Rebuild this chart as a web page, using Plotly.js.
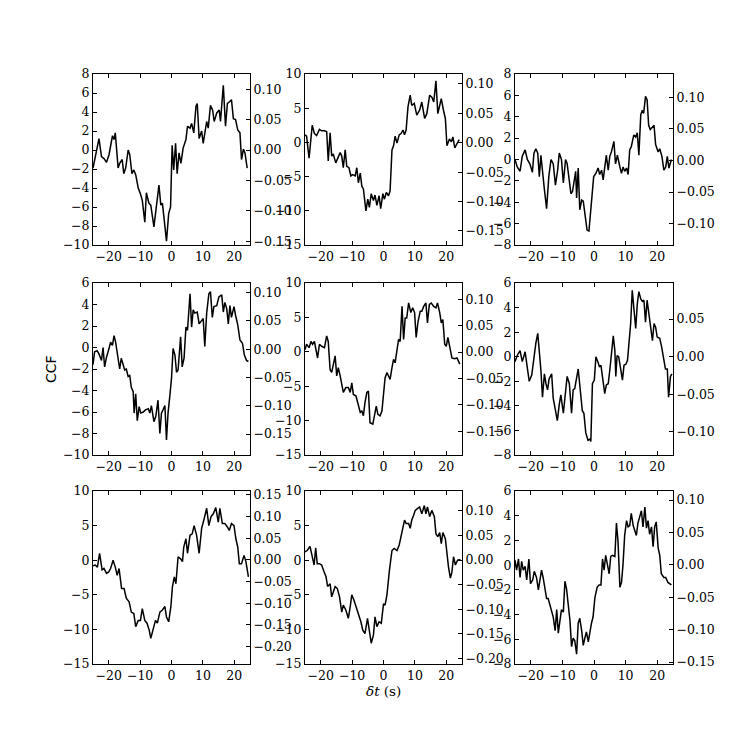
<!DOCTYPE html>
<html>
<head>
<meta charset="utf-8">
<script src="https://cdn.plot.ly/plotly-3.0.1.min.js"></script>
<style>html,body{margin:0;padding:0;background:#fff}#chart{width:747px;height:739px}</style>
</head>
<body>
<div id="chart"></div>
<script>
// ---- data (lag in s, CCF) ----
const lag1 = [-25,-23.1,-22.3,-21.5,-20.7,-19.9,-18.8,-18.3,-17.9,-17.0,-16.5,-15.7,-15.2,-14.6,-13.8,-13.3,-12.6,-12.0,-11.4,-10.6,-9.9,-9.3,-8.5,-8.0,-7.2,-6.6,-5.6,-4.8,-4.0,-3.4,-2.9,-2.3,-1.6,-0.9,-0.3,0.2,0.7,1.3,1.8,2.4,3.0,3.7,4.6,5.1,5.9,6.4,7.1,7.8,8.2,8.8,9.6,10.1,11.2,11.7,12.4,13.1,13.6,14.4,15.2,15.6,16.5,17.2,17.8,18.6,19.1,19.7,20.4,21.1,21.8,22.3,22.9,23.4,24.1];
const ccf1 = [-1.9,1.2,-0.7,-0.9,-1.3,-0.5,1.5,1.1,1.8,-1.9,-1.4,-1.0,-2.5,-1.9,0.0,-0.5,-2.5,-2.1,-2.6,-4.0,-4.6,-5.3,-7.6,-4.5,-5.6,-5.8,-8.1,-5.9,-3.7,-5.8,-5.6,-7.4,-9.6,-6.7,-6.0,0.5,-2.1,0.7,-2.5,-0.3,-1.4,0.2,1.1,2.5,2.3,2.8,1.8,4.6,4.9,1.2,2.0,0.7,3.0,2.3,4.7,4.2,3.0,3.9,4.2,3.0,6.8,2.5,4.9,5.1,5.3,3.3,3.2,2.1,1.8,-1.0,0.1,-0.3,-1.9];

const lag2 = [-25,-24.5,-23.7,-23.1,-22.7,-22.0,-21.3,-20.4,-19.7,-18.8,-18.1,-17.6,-17.0,-16.5,-16.0,-15.2,-14.6,-13.8,-13.3,-12.8,-12.2,-11.7,-11.0,-10.4,-9.8,-9.0,-8.5,-8.0,-7.4,-6.9,-6.4,-5.6,-5.0,-4.5,-3.9,-3.2,-2.7,-2.1,-1.4,-0.9,-0.2,0.3,0.9,1.6,2.1,2.7,3.2,3.7,4.3,5.0,5.6,6.2,6.7,7.2,7.8,8.5,9.0,9.8,10.6,11.5,12.2,13.1,13.8,14.7,15.4,16.0,16.7,17.3,17.9,18.4,19.1,19.7,20.2,21.0,21.6,22.1,22.7,23.4,24.1];
const ccf2 = [1.1,0.9,-2.3,1.1,2.5,1.3,1.0,1.9,1.7,1.7,1.6,-2.7,1.4,-2.0,-1.7,-3.0,-2.3,-1.5,-2.0,-3.7,-1.1,-3.5,-3.7,-4.9,-4.7,-4.9,-3.7,-5.9,-4.5,-6.4,-6.8,-10.0,-8.3,-9.5,-7.5,-8.5,-7.7,-9.2,-7.8,-9.7,-7.5,-8.3,-7.3,-7.8,-7.1,-1.1,-0.5,0.9,-0.1,1.1,1.3,1.8,1.1,1.8,5.2,6.9,5.4,5.7,4.0,4.7,5.9,3.5,4.2,6.9,6.6,5.9,9.0,4.2,5.4,6.4,4.7,3.5,-0.5,0.5,0.1,0.8,-0.8,-0.1,0.4];

const lag3 = [-25,-24.3,-23.4,-22.7,-21.8,-21.1,-20.3,-19.5,-19.0,-18.4,-17.8,-17.3,-16.8,-16.3,-15.7,-15.0,-14.3,-13.6,-12.9,-12.2,-11.5,-11.0,-10.3,-9.7,-9.0,-8.5,-7.8,-7.3,-6.8,-6.3,-5.8,-5.5,-5.0,-4.5,-3.9,-3.4,-2.9,-2.2,-1.6,-0.8,-0.1,0.6,1.3,1.8,2.4,2.9,3.4,3.9,4.5,5.0,5.5,6.3,6.8,7.4,8.2,8.7,9.2,9.7,10.3,10.8,11.3,11.8,12.6,13.2,13.7,14.2,14.8,15.3,15.7,16.3,16.8,17.3,17.8,18.5,19.0,19.5,20.3,20.8,21.5,22.1,22.7,23.2,23.7,24.5];
const ccf3 = [0.0,-0.7,-1.1,0.3,0.9,0.0,-0.4,-1.2,0.6,1.0,0.6,-1.6,0.4,-0.8,-2.8,-4.6,-1.6,0.0,-0.4,-2.4,-1.0,0.6,0.0,-2.2,0.0,-0.4,-1.9,-3.2,-3.0,-2.2,-1.1,-3.6,-0.8,-4.7,-3.8,-3.9,-5.3,-6.6,-6.7,-4.1,-1.6,-1.3,-0.8,-1.4,-1.0,-1.9,-0.4,0.4,-1.0,0.3,0.7,1.7,-0.4,0.4,-0.7,-1.3,-0.7,-1.1,-0.8,-1.4,0.9,1.2,2.3,2.1,2.5,0.4,4.2,4.6,4.3,5.9,5.6,3.2,2.8,3.1,3.2,1.4,0.7,1.0,0.3,-1.0,-0.7,0.3,-0.8,0.0];

const lag4 = [-25,-24.5,-23.7,-23.1,-22.3,-21.8,-21.3,-20.7,-19.9,-19.4,-18.8,-18.3,-17.8,-17.0,-16.5,-16.0,-15.4,-14.9,-14.4,-13.8,-13.3,-12.8,-12.2,-11.9,-11.4,-10.9,-10.3,-9.8,-9.0,-8.3,-7.4,-6.9,-6.4,-5.6,-5.0,-4.3,-3.7,-3.2,-2.7,-2.1,-1.6,-1.1,-0.5,0.0,0.5,1.1,1.6,2.1,2.9,3.4,4.0,4.6,5.1,5.9,6.4,6.9,7.4,8.2,8.8,9.6,10.1,10.6,11.2,11.9,12.4,13.0,13.5,14.4,15.1,16.0,16.5,17.0,17.6,18.1,18.6,19.1,19.9,20.4,21.1,21.8,22.6,23.2,23.9,24.5];
const ccf4 = [-1.6,-0.4,-0.3,-0.6,-1.2,0.0,-1.8,-0.9,-0.1,0.5,0.2,1.1,0.5,-1.2,-2.0,-1.0,-1.6,-2.1,-2.0,-2.7,-2.6,-3.7,-4.1,-6.1,-4.3,-6.8,-5.5,-6.1,-6.0,-5.8,-5.7,-6.1,-5.4,-6.9,-6.4,-4.9,-8.0,-6.1,-5.8,-5.4,-8.6,-6.1,-4.4,-2.9,-0.1,-0.7,-2.3,-2.1,1.0,-1.8,-1.0,1.9,1.6,5.0,1.9,3.5,3.2,3.3,2.2,2.5,2.7,0.1,3.2,5.0,5.2,2.8,3.8,3.9,4.7,4.9,3.3,4.2,3.6,2.2,3.9,2.8,3.8,3.0,2.1,0.7,0.4,-0.7,-1.2,-1.3];

const lag5 = [-25,-24.5,-23.7,-23.1,-22.6,-22.0,-21.5,-21.0,-20.4,-19.7,-18.8,-18.1,-17.6,-17.0,-16.5,-16.0,-15.4,-14.9,-14.4,-13.8,-13.3,-12.8,-12.0,-11.2,-10.6,-10.1,-9.6,-8.8,-8.2,-7.4,-6.9,-6.4,-5.9,-5.3,-4.8,-4.3,-3.4,-2.9,-2.3,-1.8,-1.1,-0.5,0.0,0.5,1.1,1.6,2.1,2.7,3.2,3.7,4.3,4.8,5.3,5.9,6.4,6.9,7.4,8.0,8.7,9.3,9.9,10.4,11.0,11.7,12.2,12.8,13.5,14.0,14.6,15.2,16.0,16.7,17.2,17.9,18.4,18.9,19.5,20.0,20.5,21.3,21.8,22.6,23.4,24.3];
const ccf5 = [0.3,1.1,0.6,1.5,1.1,1.5,0.3,-0.9,1.1,0.8,0.6,2.3,1.5,-2.6,-3.0,-1.8,-0.6,-3.5,-2.3,-3.5,-4.5,-5.9,-5.2,-5.2,-5.9,-4.5,-6.2,-6.4,-7.4,-8.8,-8.6,-9.3,-7.4,-5.9,-5.7,-10.3,-10.5,-9.3,-7.9,-9.1,-9.3,-8.6,-6.4,-3.8,-3.0,-3.4,-4.0,-2.3,-1.1,-1.6,0.1,1.8,1.5,6.6,1.8,4.9,4.9,7.1,5.7,6.4,5.7,2.1,4.4,5.9,5.9,6.6,7.1,4.2,6.9,7.1,6.6,6.4,7.1,5.7,4.2,4.7,1.1,0.8,2.1,0.3,-0.9,-1.0,-0.9,-1.8];

const lag6 = [-25,-24.3,-23.4,-22.7,-21.8,-21.1,-20.5,-19.7,-19.0,-18.4,-17.8,-17.3,-16.8,-16.3,-15.7,-15.2,-14.7,-14.2,-13.4,-12.9,-12.2,-11.6,-11.0,-10.5,-9.7,-9.2,-8.5,-7.8,-7.1,-6.6,-6.1,-5.0,-4.5,-3.7,-3.2,-2.6,-1.9,-1.3,-1.0,-0.5,0.1,0.6,1.2,1.7,2.2,2.7,3.4,3.9,4.5,5.0,5.5,6.1,6.6,6.9,7.3,7.8,8.5,9.0,9.5,10.1,10.6,11.1,11.6,12.1,12.6,13.2,13.7,14.2,14.8,15.3,15.8,16.3,16.8,17.4,17.9,18.5,19.0,19.5,20.0,20.8,21.4,22.1,22.6,23.2,23.6,24.2,24.7];
const ccf6 = [-0.4,0.1,0.5,-0.4,0.4,-0.8,-2.0,-1.5,0.1,1.1,1.9,0.5,-1.1,-3.3,-1.4,-2.2,-2.7,-1.8,-1.4,-3.4,-4.4,-5.2,-3.9,-3.1,-4.6,-3.3,-1.6,-2.2,-4.6,-2.7,-2.6,-1.0,-2.2,-4.4,-4.6,-6.2,-6.8,-6.7,-6.9,-2.2,-1.9,0.0,-0.4,-0.8,-0.7,-1.6,-3.0,-2.3,-2.2,-1.1,0.2,1.7,0.5,-1.6,0.1,0.0,-1.1,-1.9,-0.7,-0.6,-0.3,1.3,2.7,5.4,3.8,2.3,4.3,5.3,4.7,4.5,4.6,2.8,4.6,3.5,2.8,1.3,2.7,2.4,1.6,1.5,0.8,-0.3,-1.0,-1.0,-3.3,-1.6,-1.4];

const lag7 = [-25,-24.3,-23.6,-22.9,-22.1,-21.5,-20.7,-20.0,-19.4,-18.6,-17.9,-17.3,-16.7,-15.9,-15.1,-14.4,-13.5,-12.8,-12.0,-11.4,-10.6,-9.9,-9.3,-8.5,-7.8,-7.1,-6.6,-5.9,-5.1,-4.5,-3.7,-2.9,-2.1,-1.6,-0.9,-0.2,0.3,0.9,1.4,2.1,2.9,3.5,3.9,4.6,5.1,5.9,6.6,7.2,8.0,8.8,9.6,10.3,11.2,11.9,12.6,13.3,14.1,14.9,15.4,16.2,17.0,17.8,18.4,19.1,19.9,20.5,21.1,21.6,22.3,23.1,23.7,24.5];
const ccf7 = [-0.8,-0.7,-1.0,1.0,-1.4,-1.2,-1.9,-1.7,-1.2,0.0,-1.0,-2.2,-1.2,-4.1,-4.1,-5.5,-6.0,-7.5,-7.7,-9.6,-8.7,-8.7,-7.0,-8.7,-9.1,-10.1,-11.3,-10.1,-8.7,-9.1,-7.5,-7.2,-6.7,-8.2,-8.9,-6.7,-3.8,-2.4,-3.4,0.5,0.2,-0.2,1.9,3.1,1.0,3.6,3.8,5.0,3.6,1.0,4.6,5.8,7.5,5.0,6.3,6.7,7.6,5.5,7.5,5.3,5.3,4.8,4.3,5.3,5.0,3.1,1.9,-0.5,-0.5,0.7,-0.2,-2.4];

const lag8 = [-25,-24.3,-23.4,-22.9,-22.1,-21.6,-21.1,-20.4,-19.7,-18.9,-18.3,-17.8,-17.0,-16.5,-16.0,-15.4,-14.7,-14.0,-13.3,-12.8,-12.0,-11.2,-10.6,-10.1,-9.4,-8.7,-8.0,-7.2,-6.6,-5.9,-5.1,-4.5,-3.9,-3.2,-2.7,-2.1,-1.4,-0.7,0.0,0.5,1.1,1.9,2.7,3.4,4.3,5.0,5.5,6.2,6.7,7.2,8.0,8.5,9.0,9.6,10.1,10.9,11.5,12.2,13.0,13.5,14.0,14.7,15.4,16.2,16.7,17.3,17.9,18.4,18.9,19.7,20.2,20.7,21.3,21.8,22.3,22.9,23.6,24.5];
const ccf8 = [1.2,1.4,2.0,1.0,-0.7,1.8,-0.5,-0.5,-0.7,-1.7,-2.4,-3.8,-3.4,-5.3,-4.6,-3.8,-4.1,-5.3,-7.5,-6.5,-7.2,-8.4,-6.7,-5.0,-5.8,-6.7,-7.7,-8.9,-10.1,-10.6,-8.4,-9.9,-12.0,-10.8,-8.2,-9.6,-8.9,-9.1,-6.3,-6.5,-5.0,-1.4,1.4,1.7,1.4,2.2,3.3,4.6,5.8,5.3,5.3,4.6,5.8,6.5,7.2,7.5,7.7,6.7,7.9,6.7,7.7,6.3,7.2,6.3,3.8,3.4,4.0,2.4,4.0,3.1,0.7,-1.0,-2.6,-1.7,0.5,-0.7,0.0,0.1];

const lag9 = [-25,-24.5,-23.9,-23.4,-22.9,-22.4,-21.8,-21.3,-20.6,-20.1,-19.4,-18.9,-18.2,-17.6,-17.1,-16.6,-16.1,-15.5,-15.0,-14.5,-13.9,-13.4,-12.9,-12.3,-11.8,-11.3,-10.8,-10.3,-9.7,-9.2,-8.7,-8.2,-7.6,-7.1,-6.6,-6.1,-5.5,-5.0,-4.5,-3.9,-3.4,-2.9,-2.4,-1.8,-1.3,-0.8,-0.3,0.3,1.0,1.6,2.2,2.7,3.2,3.7,4.2,4.8,5.3,5.8,6.6,7.1,7.6,8.2,8.7,9.2,9.7,10.3,10.8,11.3,11.8,12.4,12.9,13.4,13.9,14.5,15.0,15.5,16.1,16.6,17.1,17.6,18.2,18.7,19.2,19.7,20.3,20.8,21.3,22.1,22.7,23.4,24.5];
const ccf9 = [0.4,-0.4,0.5,-1.0,0.3,-0.4,-0.1,-1.2,0.5,-1.5,-1.2,-0.5,-1.0,-2.0,-1.2,-0.4,-1.0,-1.9,-2.7,-2.7,-3.2,-3.6,-4.2,-5.3,-3.6,-5.5,-4.7,-3.6,-3.8,-1.3,-1.9,-3.1,-4.5,-6.6,-5.9,-6.1,-7.2,-4.7,-4.3,-5.3,-6.5,-5.9,-5.4,-6.2,-5.3,-4.7,-4.2,-2.6,-1.8,-1.6,-1.6,0.5,-0.4,0.8,0.1,-0.7,0.7,0.8,0.7,3.4,1.9,-1.8,-1.4,0.1,2.4,3.6,3.1,3.2,4.2,3.2,2.8,2.4,3.4,4.0,4.4,3.1,4.7,3.0,3.6,2.5,3.1,1.5,3.1,3.5,1.4,0.8,-0.7,-1.0,-1.0,-1.4,-1.6];

// ---- axis settings per panel ----
const lags = [lag1, lag2, lag3, lag4, lag5, lag6, lag7, lag8, lag9];
const ccfs = [ccf1, ccf2, ccf3, ccf4, ccf5, ccf6, ccf7, ccf8, ccf9];
const leftRanges = [[-10, 8], [-15, 10], [-8, 8], [-10, 6], [-15, 10], [-8, 6], [-15, 10], [-15, 10], [-8, 6]];
const leftDticks = [2, 5, 2, 2, 5, 2, 5, 5, 2];
const rightRanges = [[-0.156, 0.125], [-0.174, 0.117], [-0.134, 0.137], [-0.187, 0.117], [-0.195, 0.131], [-0.131, 0.098], [-0.24, 0.159], [-0.211, 0.140], [-0.153, 0.114]];
const lagRange = [-25, 25];
const yTitle = 'CCF';

// ---- layout geometry (pixels in the 747x739 figure) ----
const W = 747, H = 739;
const colPx = [[93, 250], [305, 462], [515, 673]];
const rowPx = [[74, 245], [283, 455], [491, 664]];

const tickFont = {family: 'DejaVu Serif', size: 12.5, color: '#000'};
const axisCommon = {
  showgrid: false, zeroline: false, showline: true, linecolor: '#000', linewidth: 1,
  ticks: 'inside', ticklen: 4, tickwidth: 1, tickcolor: '#000', tickfont: tickFont,
  fixedrange: true
};

const data = [];
const layout = {
  width: W, height: H, margin: {l: 0, r: 0, t: 0, b: 0},
  paper_bgcolor: '#fff', plot_bgcolor: 'rgba(0,0,0,0)', showlegend: false,
  font: {family: 'DejaVu Serif', color: '#000'},
  annotations: []
};

for (let i = 0; i < 9; i++) {
  const r = Math.floor(i / 3), c = i % 3;
  const n = i + 1;
  const xid = n === 1 ? 'x' : 'x' + n;
  const yid = n === 1 ? 'y' : 'y' + n;
  const yrid = 'y' + (n + 9);
  const xdom = [colPx[c][0] / W, colPx[c][1] / W];
  const ydom = [1 - rowPx[r][1] / H, 1 - rowPx[r][0] / H];

  data.push({
    x: lags[i], y: ccfs[i], xaxis: xid, yaxis: yid,
    type: 'scatter', mode: 'lines',
    line: {color: '#000', width: 1.5}, hoverinfo: 'skip'
  });
  // same curve on the twin (normalised) axis, kept transparent so the twin axis is drawn
  const lr = leftRanges[i], rr = rightRanges[i];
  const k = (rr[1] - rr[0]) / (lr[1] - lr[0]);
  data.push({
    x: lags[i], y: ccfs[i].map(v => rr[0] + (v - lr[0]) * k), xaxis: xid, yaxis: yrid,
    type: 'scatter', mode: 'lines', opacity: 0,
    line: {color: '#000', width: 1}, hoverinfo: 'skip'
  });

  layout[n === 1 ? 'xaxis' : 'xaxis' + n] = Object.assign({}, axisCommon, {
    domain: xdom, anchor: yid, range: lagRange, tick0: 0, dtick: 10, mirror: 'ticks'
  });
  layout[n === 1 ? 'yaxis' : 'yaxis' + n] = Object.assign({}, axisCommon, {
    domain: ydom, anchor: xid, range: lr, tick0: 0, dtick: leftDticks[i], side: 'left'
  });
  layout['yaxis' + (n + 9)] = Object.assign({}, axisCommon, {
    domain: ydom, anchor: xid, overlaying: yid, side: 'right',
    range: rr, tick0: 0, dtick: 0.05, tickformat: '.2f'
  });
}

layout.annotations.push({
  text: yTitle, xref: 'paper', yref: 'paper', x: 51 / W, y: 1 - 369 / H,
  showarrow: false, textangle: -90, xanchor: 'center', yanchor: 'middle',
  font: {family: 'DejaVu Sans', size: 14, color: '#000'}
});
layout.annotations.push({
  text: '<i>δt</i> (s)', xref: 'paper', yref: 'paper', x: 383 / W, y: 1 - 691 / H,
  showarrow: false, xanchor: 'center', yanchor: 'middle',
  font: {family: 'DejaVu Serif', size: 13.5, color: '#000'}
});

Plotly.newPlot('chart', data, layout, {staticPlot: true, displayModeBar: false});
</script>
</body>
</html>
